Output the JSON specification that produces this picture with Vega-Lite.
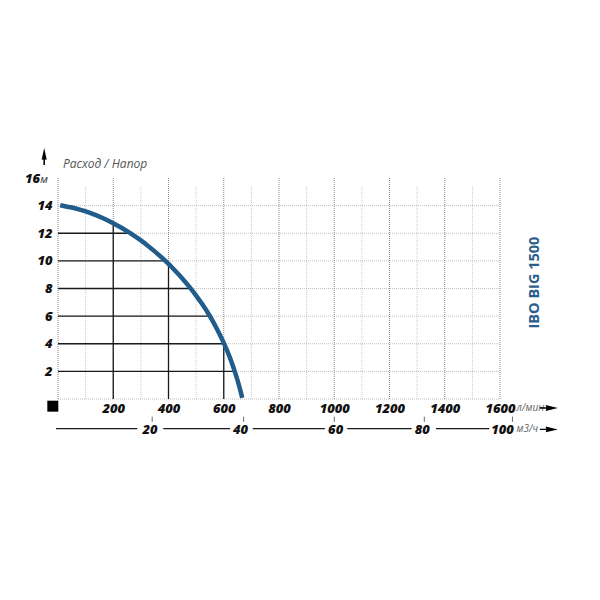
{
  "$schema": "https://vega.github.io/schema/vega-lite/v6.json",
  "width": 442,
  "height": 221,
  "autosize": {"type": "none"},
  "padding": {"left": 58, "top": 178, "right": 100, "bottom": 201},
  "background": "white",
  "config": {"view": {"stroke": null}, "font": "Open Sans"},
  "datasets": {
    "curve": [
      {"q": 8, "h": 14.03}, {"q": 25, "h": 13.96}, {"q": 50, "h": 13.86}, {"q": 75, "h": 13.73},
      {"q": 100, "h": 13.58}, {"q": 125, "h": 13.4}, {"q": 150, "h": 13.2}, {"q": 175, "h": 12.98},
      {"q": 200, "h": 12.73}, {"q": 225, "h": 12.45}, {"q": 250, "h": 12.15}, {"q": 275, "h": 11.83},
      {"q": 300, "h": 11.48}, {"q": 325, "h": 11.1}, {"q": 350, "h": 10.69}, {"q": 375, "h": 10.25},
      {"q": 400, "h": 9.78}, {"q": 425, "h": 9.27}, {"q": 450, "h": 8.73}, {"q": 475, "h": 8.13},
      {"q": 500, "h": 7.49}, {"q": 525, "h": 6.78}, {"q": 550, "h": 5.99}, {"q": 575, "h": 5.09},
      {"q": 600, "h": 4.06}, {"q": 612.5, "h": 3.48}, {"q": 625, "h": 2.85}, {"q": 637.5, "h": 2.14},
      {"q": 650, "h": 1.34}, {"q": 660, "h": 0.62}, {"q": 667, "h": 0.08}
    ],
    "hdrop": [
      {"h": 12, "q": 0, "q2": 261}, {"h": 10, "q": 0, "q2": 389}, {"h": 8, "q": 0, "q2": 480},
      {"h": 6, "q": 0, "q2": 550}, {"h": 4, "q": 0, "q2": 602}, {"h": 2, "q": 0, "q2": 639}
    ],
    "vdrop": [{"q": 200, "h": 0, "h2": 12.7}, {"q": 400, "h": 0, "h2": 9.75}, {"q": 600, "h": 0, "h2": 4.05}],
    "vmajor": [
      {"q": 0, "h": 0, "h2": 16}, {"q": 200, "h": 0, "h2": 16}, {"q": 400, "h": 0, "h2": 16},
      {"q": 600, "h": 0, "h2": 16}, {"q": 800, "h": 0, "h2": 16}, {"q": 1000, "h": 0, "h2": 16},
      {"q": 1200, "h": 0, "h2": 16}, {"q": 1400, "h": 0, "h2": 16}, {"q": 1600, "h": 0, "h2": 16}
    ],
    "vminor": [
      {"q": 100, "h": 0, "h2": 15.4}, {"q": 300, "h": 0, "h2": 15.4}, {"q": 500, "h": 0, "h2": 15.4},
      {"q": 700, "h": 0, "h2": 15.4}, {"q": 900, "h": 0, "h2": 15.4}, {"q": 1100, "h": 0, "h2": 15.4},
      {"q": 1300, "h": 0, "h2": 15.4}, {"q": 1500, "h": 0, "h2": 15.4}
    ],
    "hgrid": [
      {"h": 0, "q": 0, "q2": 1600}, {"h": 2, "q": 0, "q2": 1600}, {"h": 4, "q": 0, "q2": 1600},
      {"h": 6, "q": 0, "q2": 1600}, {"h": 8, "q": 0, "q2": 1600}, {"h": 10, "q": 0, "q2": 1600},
      {"h": 12, "q": 0, "q2": 1600}, {"h": 14, "q": 0, "q2": 1600}
    ],
    "m3hTicks": [
      {"q": 341, "h": -1.28, "h2": -1.65}, {"q": 672, "h": -1.28, "h2": -1.65},
      {"q": 1000, "h": -1.28, "h2": -1.65}, {"q": 1326, "h": -1.28, "h2": -1.65},
      {"q": 1645, "h": -1.28, "h2": -1.65}
    ],
    "m3hLabels": [
      {"t": "20", "q": 333, "h": -2.17}, {"t": "40", "q": 661, "h": -2.17},
      {"t": "60", "q": 1005, "h": -2.17}, {"t": "80", "q": 1319, "h": -2.17},
      {"t": "100", "q": 1609, "h": -2.17}
    ],
    "segs": [
      {"q": -7, "q2": 287, "h": -2.15}, {"q": 381, "q2": 623, "h": -2.15}, {"q": 705, "q2": 966, "h": -2.15},
      {"q": 1047, "q2": 1280, "h": -2.15}, {"q": 1368, "q2": 1561, "h": -2.15}
    ]
  },
  "encoding": {
    "x": {
      "field": "q", "type": "quantitative", "title": null,
      "scale": {"domain": [0, 1600], "nice": false, "zero": false},
      "axis": {
        "values": [200, 400, 600, 800, 1000, 1200, 1400, 1600], "format": "d",
        "grid": false, "domain": false, "ticks": false, "tickSize": 0,
        "labelFont": "Open Sans", "labelFontWeight": 800, "labelFontStyle": "italic",
        "labelFontSize": 13, "labelColor": "#111", "labelPadding": 13,
        "labelBaseline": "alphabetic", "labelFlush": false, "labelOverlap": false, "labelBound": false
      }
    },
    "y": {
      "field": "h", "type": "quantitative", "title": null,
      "scale": {"domain": [0, 16], "nice": false, "zero": false},
      "axis": {
        "values": [2, 4, 6, 8, 10, 12, 14], "format": "d",
        "grid": false, "domain": false, "ticks": false, "tickSize": 0,
        "labelFont": "Open Sans", "labelFontWeight": 800, "labelFontStyle": "italic",
        "labelFontSize": 13, "labelColor": "#111", "labelPadding": 6,
        "labelBaseline": "middle", "labelFlush": false, "labelOverlap": false, "labelBound": false
      }
    }
  },
  "layer": [
    {
      "data": {"name": "vminor"},
      "mark": {"type": "rule", "stroke": "#c8c8c8", "strokeWidth": 1, "strokeDash": [1, 1]},
      "encoding": {"y2": {"field": "h2"}}
    },
    {
      "data": {"name": "hgrid"},
      "mark": {"type": "rule", "stroke": "#c0c0c0", "strokeWidth": 1, "strokeDash": [1, 1]},
      "encoding": {"x2": {"field": "q2"}}
    },
    {
      "data": {"name": "vmajor"},
      "mark": {"type": "rule", "stroke": "#8a8a8a", "strokeWidth": 1, "strokeDash": [1, 1]},
      "encoding": {"y2": {"field": "h2"}}
    },
    {
      "data": {"name": "hdrop"},
      "mark": {"type": "rule", "stroke": "#1a1a1a", "strokeWidth": 1.3},
      "encoding": {"x2": {"field": "q2"}}
    },
    {
      "data": {"name": "vdrop"},
      "mark": {"type": "rule", "stroke": "#1a1a1a", "strokeWidth": 1.3},
      "encoding": {"y2": {"field": "h2"}}
    },
    {
      "data": {"name": "curve"},
      "mark": {"type": "line", "stroke": "#215c8a", "strokeWidth": 4.5, "interpolate": "monotone", "strokeCap": "butt"}
    },
    {
      "data": {"name": "segs"},
      "mark": {"type": "rule", "stroke": "#1a1a1a", "strokeWidth": 1.2},
      "encoding": {"x2": {"field": "q2"}}
    },
    {
      "data": {"name": "m3hTicks"},
      "mark": {"type": "rule", "stroke": "#666", "strokeWidth": 1},
      "encoding": {"y2": {"field": "h2"}}
    },
    {
      "data": {"name": "m3hLabels"},
      "mark": {"type": "text", "font": "Open Sans", "fontWeight": 800, "fontStyle": "italic", "fontSize": 13, "fill": "#111", "align": "center", "baseline": "middle", "dy": 1},
      "encoding": {"text": {"field": "t", "type": "nominal"}}
    },
    {
      "data": {"values": [{"t": "16", "q": -65, "h": 15.93}]},
      "mark": {"type": "text", "font": "Open Sans", "fontWeight": 800, "fontStyle": "italic", "fontSize": 13, "fill": "#111", "align": "right", "baseline": "middle"},
      "encoding": {"text": {"field": "t", "type": "nominal"}}
    },
    {
      "data": {"values": [{"t": "м", "q": -64, "h": 15.93}]},
      "mark": {"type": "text", "font": "Open Sans", "fontStyle": "italic", "fontSize": 11, "fill": "#333", "align": "left", "baseline": "middle", "dy": 1},
      "encoding": {"text": {"field": "t", "type": "nominal"}}
    },
    {
      "data": {"values": [{"t": "Расход / Напор", "q": 18, "h": 17.03}]},
      "mark": {"type": "text", "font": "Open Sans", "fontStyle": "italic", "fontSize": 12, "fill": "#555", "align": "left", "baseline": "middle"},
      "encoding": {"text": {"field": "t", "type": "nominal"}}
    },
    {
      "data": {"values": [{"t": "л/мин", "q": 1660, "h": -0.68}, {"t": "м3/ч", "q": 1660, "h": -2.17}]},
      "mark": {"type": "text", "font": "Open Sans", "fontStyle": "italic", "fontSize": 10, "fill": "#666", "align": "left", "baseline": "middle"},
      "encoding": {"text": {"field": "t", "type": "nominal"}}
    },
    {
      "data": {"values": [{"t": "IBO BIG 1500", "q": 1725, "h": 8.43}]},
      "mark": {"type": "text", "font": "Open Sans", "fontWeight": "bold", "fontSize": 14.5, "fill": "#2b5d8c", "align": "center", "baseline": "middle", "angle": 270},
      "encoding": {"text": {"field": "t", "type": "nominal"}}
    },
    {
      "data": {"values": [{"q": -18.8, "h": -0.52}]},
      "mark": {"type": "point", "shape": "square", "size": 121, "filled": true, "fill": "#000", "opacity": 1, "strokeWidth": 0}
    },
    {
      "data": {"values": [{"q": -50, "h": 17.56}]},
      "mark": {"type": "point", "shape": "M0,-1L0.3,0.4L0.09,0.35L0.09,1L-0.09,1L-0.09,0.35L-0.3,0.4Z", "size": 289, "filled": true, "fill": "#000", "opacity": 1, "strokeWidth": 0}
    },
    {
      "data": {"values": [{"q": 1777, "h": -0.65}, {"q": 1777, "h": -2.2}]},
      "mark": {"type": "point", "shape": "M1,0L-0.35,-0.33L-0.3,-0.08L-1,-0.08L-1,0.08L-0.3,0.08L-0.35,0.33Z", "size": 324, "filled": true, "fill": "#000", "opacity": 1, "strokeWidth": 0}
    }
  ]
}
